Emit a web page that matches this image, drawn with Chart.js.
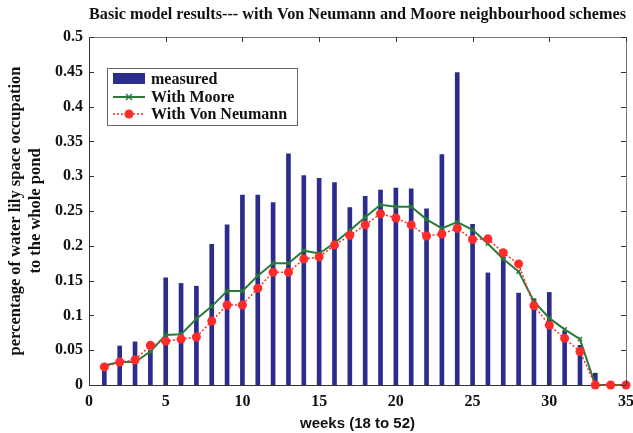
<!DOCTYPE html>
<html>
<head>
<meta charset="utf-8">
<script src="https://cdn.jsdelivr.net/npm/chart.js@4.4.1/dist/chart.umd.min.js"></script>
<style>
html,body{margin:0;padding:0;background:#fff;}
#wrap{width:633px;height:433px;}
</style>
</head>
<body>
<div id="wrap"><canvas id="c" width="633" height="433"></canvas></div>
<script>
const weeks = [1,2,3,4,5,6,7,8,9,10,11,12,13,14,15,16,17,18,19,20,21,22,23,24,25,26,27,28,29,30,31,32,33,34,35];
const measured = [0.025,0.056,0.062,0.050,0.154,0.146,0.142,0.202,0.230,0.273,0.273,0.262,0.332,0.301,0.297,0.291,0.255,0.271,0.280,0.283,0.282,0.253,0.331,0.449,0.231,0.161,0.183,0.132,0.124,0.133,0.077,0.057,0.017,0,0];
const moore = [0.028,0.033,0.033,0.048,0.072,0.073,0.095,0.113,0.135,0.135,0.157,0.175,0.175,0.193,0.189,0.204,0.222,0.241,0.259,0.256,0.256,0.238,0.225,0.234,0.223,0.203,0.181,0.163,0.120,0.096,0.080,0.066,0,0,0];
const vonNeumann = [0.026,0.033,0.036,0.057,0.063,0.066,0.069,0.092,0.115,0.115,0.139,0.162,0.162,0.181,0.184,0.201,0.215,0.230,0.246,0.240,0.230,0.214,0.217,0.225,0.209,0.210,0.190,0.174,0.114,0.086,0.067,0.048,0,0,0];
const xTickLabels = ['0','5','10','15','20','25','30','35'];
const yTickLabels = ['0','0.05','0.1','0.15','0.2','0.25','0.3','0.35','0.4','0.45','0.5'];
const seriesNames = ['measured','With Moore','With Von Neumann'];

const BLUE = '#2b2d8c', GREEN = '#2a7a3a', RED = '#ff2a2a';
const FONT = 'Liberation Serif';
const SANS = 'Liberation Sans';

const pts = arr => weeks.map((w,i)=>({x:w,y:arr[i]}));

const boxPlugin = {
  id:'boxTicks',
  afterDraw(chart){
    const {ctx, chartArea:a, scales:{x,y}} = chart;
    ctx.save();
    ctx.strokeStyle = '#777';
    ctx.lineWidth = 1;
    ctx.beginPath();
    ctx.moveTo(a.left, a.top+0.5); ctx.lineTo(a.right+0.5, a.top+0.5); ctx.lineTo(a.right+0.5, a.bottom);
    ctx.stroke();
    ctx.strokeStyle = '#333';
    ctx.beginPath();
    x.ticks.forEach(t=>{
      const px = Math.round(x.getPixelForValue(t.value))+0.5;
      ctx.moveTo(px,a.bottom); ctx.lineTo(px,a.bottom-5);
      ctx.moveTo(px,a.top); ctx.lineTo(px,a.top+5);
    });
    y.ticks.forEach(t=>{
      const py = Math.round(y.getPixelForValue(t.value))+0.5;
      ctx.moveTo(a.left,py); ctx.lineTo(a.left+5,py);
      ctx.moveTo(a.right,py); ctx.lineTo(a.right-5,py);
    });
    ctx.stroke();
    ctx.restore();
  }
};

const legendPlugin = {
  id:'innerLegend',
  afterDraw(chart){
    const ctx = chart.ctx;
    const lx = 107, ly = 68, lw = 190, lh = 57;
    ctx.save();
    ctx.fillStyle = '#fff';
    ctx.fillRect(lx,ly,lw,lh);
    ctx.strokeStyle = '#666';
    ctx.lineWidth = 1;
    ctx.strokeRect(lx+0.5,ly+0.5,lw,lh);
    const rows = [79, 97, 114];
    const sx0 = 113, sx1 = 145, tx = 151;
    ctx.fillStyle = BLUE;
    ctx.fillRect(sx0, rows[0]-6, sx1-sx0, 11);
    ctx.strokeStyle = GREEN; ctx.lineWidth = 2;
    ctx.beginPath(); ctx.moveTo(sx0, rows[1]); ctx.lineTo(sx1, rows[1]); ctx.stroke();
    const cx = (sx0+sx1)/2;
    ctx.lineWidth = 1.5;
    ctx.beginPath();
    ctx.moveTo(cx-3,rows[1]-3); ctx.lineTo(cx+3,rows[1]+3);
    ctx.moveTo(cx-3,rows[1]+3); ctx.lineTo(cx+3,rows[1]-3);
    ctx.stroke();
    ctx.strokeStyle = RED; ctx.lineWidth = 1.5; ctx.setLineDash([2,2]);
    ctx.beginPath(); ctx.moveTo(sx0, rows[2]); ctx.lineTo(sx1, rows[2]); ctx.stroke();
    ctx.setLineDash([]);
    ctx.fillStyle = RED;
    ctx.beginPath(); ctx.arc(cx, rows[2], 4.5, 0, Math.PI*2); ctx.fill();
    ctx.fillStyle = '#111';
    ctx.font = 'bold 16px "'+FONT+'"';
    ctx.textBaseline = 'middle';
    ctx.textAlign = 'left';
    seriesNames.forEach((n,i)=>ctx.fillText(n, tx, rows[i]+1));
    ctx.restore();
  }
};

new Chart(document.getElementById('c'), {
  type:'bar',
  data:{
    datasets:[
      {type:'line', label:seriesNames[2], data:pts(vonNeumann), borderColor:RED, backgroundColor:RED,
       borderWidth:1.5, borderDash:[2,2], pointStyle:'circle', pointRadius:4.5, pointBorderWidth:0,
       pointBackgroundColor:RED, clip:false, order:0},
      {type:'line', label:seriesNames[1], data:pts(moore), borderColor:GREEN, backgroundColor:GREEN,
       borderWidth:2, pointStyle:'crossRot', pointRadius:3, pointBorderWidth:1.5,
       pointBorderColor:GREEN, clip:false, order:1},
      {label:seriesNames[0], data:pts(measured), backgroundColor:BLUE, barThickness:4, order:2}
    ]
  },
  options:{
    responsive:false,
    animation:false,
    devicePixelRatio:1,
    layout:{padding:{left:0,right:0,top:0,bottom:0}},
    plugins:{
      legend:{display:false},
      tooltip:{enabled:false},
      title:{display:true, fullSize:false, text:'Basic model results--- with Von Neumann and Moore neighbourhood schemes',
        color:'#111', font:{family:FONT, size:17, weight:'bold', lineHeight:1.2}, padding:{top:4.5,bottom:12.1}}
    },
    scales:{
      x:{type:'linear', min:0, max:35, offset:false,
        grid:{display:false, drawTicks:false},
        border:{display:true, color:'#333', width:1},
        ticks:{stepSize:5, color:'#111', padding:7, maxRotation:0,
          font:{family:FONT, size:16, weight:'bold'},
          callback:(v)=>{const i=v/5; return Number.isInteger(i)?xTickLabels[i]:'';}},
        title:{display:true, text:'weeks (18 to 52)', color:'#111',
          font:{family:SANS, size:15, weight:'bold'}, padding:{top:2,bottom:0}},
        afterFit(s){s.height = 48; s.paddingRight = 7; s.paddingLeft = 0;}
      },
      y:{min:0, max:0.5,
        grid:{display:false, drawTicks:false},
        border:{display:true, color:'#333', width:1},
        ticks:{stepSize:0.05, color:'#111', padding:6,
          font:{family:FONT, size:16, weight:'bold'},
          callback:(v)=>{const i=Math.round(v/0.05); return yTickLabels[i];}},
        title:{display:true, text:['percentage of water lily space occupation','to the whole pond'], color:'#111',
          font:{family:FONT, size:16.5, weight:'bold', lineHeight:1.2}, padding:{top:6,bottom:0}},
        afterFit(s){s.width = 89;}
      }
    }
  },
  plugins:[boxPlugin, legendPlugin]
});
</script>
</body>
</html>
